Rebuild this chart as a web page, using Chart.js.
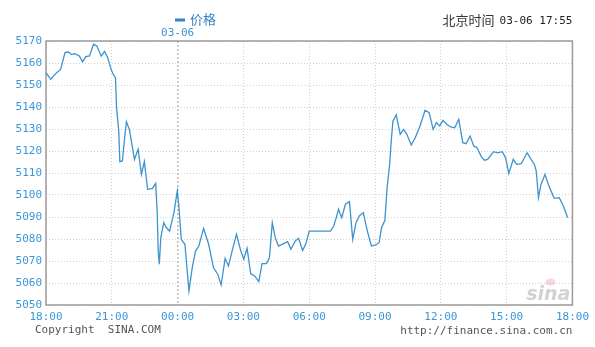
<!DOCTYPE html>
<html>
<head>
<meta charset="utf-8">
<script src="https://cdn.jsdelivr.net/npm/chart.js@4/dist/chart.umd.min.js"></script>
<style>
    html, body { margin: 0; padding: 0; background: #fff; }
    #wrap { width: 595px; height: 347px; }
</style>
</head>
<body>
<div id="wrap"><canvas id="priceChart" width="595" height="347"></canvas></div>
<script>
// Chart data
const seriesName = '价格';
const dateLabel = '03-06';
const updateTime = '03-06 17:55';
const xTickLabels = ['18:00', '21:00', '00:00', '03:00', '06:00', '09:00', '12:00', '15:00', '18:00'];
const times = [
    '18:00', '18:13', '18:29', '18:40', '18:52', '19:01', '19:10', '19:19', '19:31', '19:40',
    '19:49', '19:59', '20:10', '20:19', '20:31', '20:40', '20:49', '20:58', '21:04', '21:10',
    '21:13', '21:19', '21:22', '21:29', '21:35', '21:40', '21:48', '21:55', '22:02', '22:12',
    '22:21', '22:29', '22:38', '22:51', '23:00', '23:04', '23:07', '23:10', '23:14', '23:22',
    '23:29', '23:38', '23:50', '23:59', '00:03', '00:10', '00:20', '00:31', '00:40', '00:49',
    '00:58', '01:11', '01:25', '01:38', '01:50', '01:59', '02:10', '02:19', '02:29', '02:41',
    '02:53', '03:01', '03:10', '03:20', '03:31', '03:42', '03:51', '04:03', '04:11', '04:19',
    '04:27', '04:36', '04:50', '05:01', '05:10', '05:22', '05:31', '05:42', '05:51', '06:00',
    '06:33', '06:58', '07:07', '07:14', '07:20', '07:29', '07:39', '07:50', '07:59', '08:08',
    '08:17', '08:28', '08:39', '08:50', '09:02', '09:11', '09:18', '09:27', '09:33', '09:40',
    '09:45', '09:49', '09:58', '10:09', '10:18', '10:27', '10:39', '10:50', '11:03', '11:17',
    '11:28', '11:39', '11:48', '11:57', '12:06', '12:18', '12:29', '12:38', '12:49', '13:00',
    '13:09', '13:20', '13:30', '13:39', '13:50', '13:59', '14:08', '14:24', '14:35', '14:48',
    '14:57', '15:06', '15:18', '15:27', '15:40', '15:56', '16:07', '16:16', '16:21', '16:27',
    '16:34', '16:45', '16:54', '17:10', '17:24', '17:35', '17:47'
];
const prices = [
    5155.6, 5152.6, 5155.6, 5157.1, 5164.7, 5165.0, 5163.9, 5164.2, 5163.2, 5160.6,
    5162.9, 5163.2, 5168.5, 5167.7, 5163.2, 5165.2, 5162.4, 5157.1, 5154.8, 5153.3,
    5139.7, 5129.1, 5115.2, 5115.5, 5126.0, 5133.3, 5129.8, 5123.0, 5116.2, 5120.8,
    5109.4, 5115.2, 5102.6, 5103.0, 5105.3, 5092.7, 5074.5, 5068.5, 5080.6, 5087.4,
    5085.2, 5083.6, 5092.0, 5101.8, 5095.8, 5079.8, 5077.6, 5056.4, 5067.0, 5074.5,
    5076.8, 5084.8, 5077.6, 5067.0, 5063.9, 5059.1, 5071.2, 5067.7, 5074.5, 5082.1,
    5074.5, 5070.8, 5075.8, 5064.2, 5063.2, 5060.6, 5068.8, 5068.8, 5071.5, 5087.4,
    5080.6, 5076.8, 5077.9, 5078.8, 5075.3, 5079.1, 5080.3, 5074.8, 5077.9, 5083.6,
    5083.6, 5083.6, 5085.9, 5089.7, 5093.5, 5089.7, 5095.8, 5097.0, 5079.8, 5087.4,
    5090.5, 5092.0, 5083.6, 5076.8, 5077.3, 5078.3, 5085.2, 5088.5, 5103.3, 5113.9,
    5126.0, 5133.6, 5136.4, 5127.6, 5129.8, 5127.6, 5122.7, 5126.0, 5131.4, 5138.5,
    5137.4, 5129.8, 5132.9, 5131.4, 5133.9, 5131.8, 5130.9, 5130.6, 5134.4, 5123.8,
    5123.3, 5126.8, 5122.3, 5121.5, 5117.7, 5115.8, 5116.2, 5119.7, 5119.2, 5119.7,
    5117.0, 5109.7, 5116.2, 5113.9, 5114.2, 5119.2, 5116.2, 5113.9, 5110.9, 5098.8,
    5104.8, 5109.4, 5104.8, 5098.5, 5098.8, 5095.0, 5089.7
];

const tickBlue = '#3a96d6';
const lineBlue = '#3b93cf';
const monoFont = '"DejaVu Sans Mono", monospace';
const cjkFont = '"Noto Sans CJK SC", sans-serif';

// minutes since 18:00 of the previous day
function minutesFromStart(t) {
    const [h, m] = t.split(':').map(Number);
    return (h * 60 + m - 18 * 60 + 1440) % 1440;
}

const points = times.map((t, i) => ({ x: minutesFromStart(t), y: prices[i] }));
const midnight = 6 * 60;

// frame, date label, legend, header and footer texts
const decorations = {
    id: 'decorations',
    beforeDatasetsDraw(chart) {
        const { ctx, chartArea: a } = chart;
        ctx.save();
        ctx.strokeStyle = '#9a9a9a';
        ctx.lineWidth = 1.5;
        ctx.strokeRect(a.left, a.top, a.right - a.left, a.bottom - a.top);

        // sina watermark
        ctx.font = 'italic bold 19px "DejaVu Sans", sans-serif';
        ctx.fillStyle = '#d2d2d2';
        ctx.textAlign = 'right';
        ctx.textBaseline = 'alphabetic';
        ctx.fillText('sina', a.right - 2, a.bottom - 5);
        ctx.fillStyle = 'rgba(230, 120, 130, 0.3)';
        ctx.beginPath();
        ctx.ellipse(a.right - 22, a.bottom - 23, 5, 3.5, 0, 0, Math.PI * 2);
        ctx.fill();
        ctx.restore();
    },
    afterDraw(chart) {
        const { ctx, chartArea: a, scales: { x } } = chart;
        ctx.save();
        ctx.textBaseline = 'middle';

        ctx.font = '11px ' + monoFont;
        ctx.fillStyle = tickBlue;
        ctx.textAlign = 'center';
        ctx.fillText(dateLabel, x.getPixelForValue(midnight), a.top - 8);

        // legend
        ctx.fillStyle = '#2f86cc';
        ctx.fillRect(175, 18.5, 10, 3);
        ctx.font = '13px ' + cjkFont;
        ctx.fillStyle = '#3b82c4';
        ctx.textAlign = 'left';
        ctx.fillText(seriesName, 190, 19);

        // header right
        ctx.font = '11px ' + monoFont;
        ctx.fillStyle = '#222';
        ctx.textAlign = 'right';
        ctx.fillText(updateTime, a.right, 21);
        const w = ctx.measureText(updateTime).width;
        ctx.font = '13px ' + cjkFont;
        ctx.fillStyle = '#333';
        ctx.fillText('北京时间', a.right - w - 5, 20);

        // footer
        ctx.font = '11px ' + monoFont;
        ctx.fillStyle = '#555';
        ctx.textAlign = 'left';
        ctx.fillText('Copyright  SINA.COM', 35, 330);
        ctx.textAlign = 'right';
        ctx.fillText('http://finance.sina.com.cn', a.right, 331);
        ctx.restore();
    }
};

const ctx = document.getElementById('priceChart').getContext('2d');
new Chart(ctx, {
    type: 'line',
    data: {
        datasets: [{
            label: seriesName,
            data: points,
            borderColor: lineBlue,
            borderWidth: 1.3,
            pointRadius: 0,
            tension: 0,
            fill: false,
        }],
    },
    options: {
        responsive: false,
        animation: false,
        devicePixelRatio: 1,
        layout: { padding: { top: 41, right: 17, left: 0, bottom: 0 } },
        plugins: {
            legend: { display: false },
            tooltip: { enabled: false },
        },
        scales: {
            x: {
                type: 'linear',
                min: 0,
                max: 1440,
                afterFit: (s) => { s.height = 42; },
                afterBuildTicks: (s) => {
                    s.ticks = xTickLabels.map((_, i) => ({ value: i * 180 }));
                },
                ticks: {
                    autoSkip: false,
                    maxRotation: 0,
                    padding: 6,
                    color: tickBlue,
                    font: { family: monoFont, size: 11 },
                    callback: (v, i) => xTickLabels[i],
                },
                grid: {
                    drawTicks: false,
                    color: (c) => c.tick && c.tick.value === midnight ? '#bdbdbd' : '#d0d0d0',
                    lineWidth: (c) => c.tick && c.tick.value === midnight ? 1.5 : 1,
                },
                border: {
                    display: false,
                    dash: (c) => c.tick && c.tick.value === midnight ? [2, 2] : [1, 2],
                },
            },
            y: {
                min: 5050,
                max: 5170,
                afterFit: (s) => { s.width = 46; },
                ticks: {
                    stepSize: 10,
                    autoSkip: false,
                    padding: 4,
                    color: tickBlue,
                    font: { family: monoFont, size: 11 },
                    callback: (v) => String(v),
                },
                grid: {
                    drawTicks: false,
                    color: '#d0d0d0',
                    lineWidth: 1,
                },
                border: {
                    display: false,
                    dash: [1, 2],
                },
            },
        },
    },
    plugins: [decorations],
});
</script>
</body>
</html>
